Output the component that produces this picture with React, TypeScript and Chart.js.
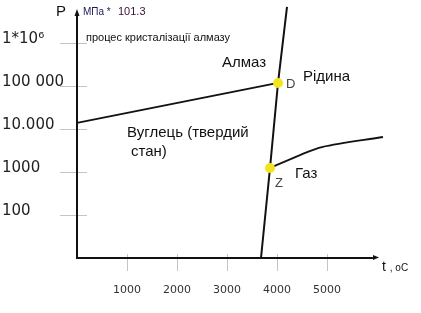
import { useEffect, useRef } from 'react';
import { Chart, registerables } from 'chart.js';

Chart.register(...registerables);

// Axis ticks
const xTicks = [1000, 2000, 3000, 4000, 5000];
const xTickLabels = ['1000', '2000', '3000', '4000', '5000'];
const yTicks = [100, 1000, 10000, 100000, 1000000];
const yTickLabels = ['100', '1000', '10.000', '100 000', '1*10⁶'];

// Phase boundaries (temperature °C, pressure MPa)
const meltT = [3680, 3860, 4020, 4200];
const meltP = [10, 1240, 117500, 6900000];
const graphiteT = [0, 4020];
const graphiteP = [13800, 117500];
const gasT = [3860, 4460, 4900, 6120];
const gasP = [1240, 2480, 3810, 6520];

// Triple points
const pointT = [3860, 4020];
const pointP = [1240, 117500];
const pointNames = ['Z', 'D'];

const X_MIN = 0;
const X_MAX = 5900;
const Y_MIN = 10;
const Y_MAX = 4.48e6;

const toXY = (xs: number[], ys: number[]) => xs.map((x, i) => ({ x, y: ys[i] }));

const SANS = '"Liberation Sans", Arial, sans-serif';

const decor = {
  id: 'decor',
  beforeDraw(chart: any) {
    const { ctx, chartArea: a, scales } = chart;
    const x = scales.x;
    const y = scales.y;
    ctx.save();
    ctx.strokeStyle = '#c4c4c4';
    ctx.lineWidth = 1;
    yTicks.forEach((v) => {
      const py = Math.round(y.getPixelForValue(v)) + 0.5;
      ctx.beginPath();
      ctx.moveTo(a.left - 17, py);
      ctx.lineTo(a.left + 10, py);
      ctx.stroke();
    });
    xTicks.forEach((v) => {
      const px = Math.round(x.getPixelForValue(v)) + 0.5;
      ctx.beginPath();
      ctx.moveTo(px, a.bottom - 4);
      ctx.lineTo(px, a.bottom + 13);
      ctx.stroke();
    });
    ctx.restore();
  },
  afterDraw(chart: any) {
    const { ctx, chartArea: a, scales } = chart;
    const x = scales.x;
    const y = scales.y;
    ctx.save();
    // y axis arrow
    ctx.fillStyle = '#111';
    ctx.beginPath();
    ctx.moveTo(a.left, a.top - 6);
    ctx.lineTo(a.left - 2.5, a.top + 1);
    ctx.lineTo(a.left + 2.5, a.top + 1);
    ctx.closePath();
    ctx.fill();
    // x axis arrow
    ctx.strokeStyle = '#333';
    ctx.lineWidth = 1;
    ctx.beginPath();
    ctx.moveTo(a.right, a.bottom - 0.5);
    ctx.lineTo(a.right + 4, a.bottom - 0.5);
    ctx.stroke();
    ctx.beginPath();
    ctx.moveTo(a.right + 7, a.bottom - 0.5);
    ctx.lineTo(a.right + 1, a.bottom - 3);
    ctx.lineTo(a.right + 1, a.bottom + 2);
    ctx.closePath();
    ctx.fill();

    const text = (s: string, px: number, py: number, size: number, color: string, family = SANS) => {
      ctx.font = `${size}px ${family}`;
      ctx.fillStyle = color;
      ctx.textAlign = 'left';
      ctx.textBaseline = 'alphabetic';
      ctx.fillText(s, px, py);
    };

    text('P', 56, 16, 15, '#111');
    text('МПа *', 83, 15, 10, '#1a1a5a');
    text('101.3', 118, 15, 11, '#3a103a');
    text('процес кристалізації алмазу', 86, 41, 11, '#111');
    text('Алмаз', 222, 67, 15, '#111');
    text('Рідина', 303, 81, 15, '#111');
    text('Вуглець (твердий', 127, 137, 15, '#111');
    text('стан)', 131, 156, 15, '#111');
    text('Газ', 295, 178, 15, '#111');
    text('t', 382, 271, 14, '#111');
    text(' , oC', 387, 271, 10, '#111');

    pointNames.forEach((n, i) => {
      const px = x.getPixelForValue(pointT[i]);
      const py = y.getPixelForValue(pointP[i]);
      if (n === 'Z') text(n, px + 5, py + 19, 13, '#444');
      else text(n, px + 8, py + 5, 13, '#444');
    });
    ctx.restore();
  },
};

export default function App() {
  const ref = useRef<HTMLCanvasElement | null>(null);

  useEffect(() => {
    const canvas = ref.current;
    if (!canvas) return;
    const chart = new Chart(canvas, {
      type: 'scatter',
      data: {
        datasets: [
          {
            data: toXY(pointT, pointP),
            pointRadius: 5,
            pointBackgroundColor: '#f2e41e',
            pointBorderWidth: 0,
            showLine: false,
            order: 0,
            clip: false,
          } as any,
          {
            data: toXY(meltT, meltP),
            showLine: true,
            pointRadius: 0,
            borderColor: '#111',
            borderWidth: 2,
            order: 1,
            clip: false,
          },
          {
            data: toXY(graphiteT, graphiteP),
            showLine: true,
            pointRadius: 0,
            borderColor: '#111',
            borderWidth: 1.8,
            order: 1,
            clip: false,
          },
          {
            data: toXY(gasT, gasP),
            showLine: true,
            pointRadius: 0,
            borderColor: '#111',
            borderWidth: 1.8,
            tension: 0.3,
            order: 1,
            clip: false,
          },
        ],
      },
      options: {
        responsive: false,
        animation: false,
        devicePixelRatio: 1,
        events: [],
        layout: { padding: { left: 2, top: 15, right: 49, bottom: 0 } },
        plugins: { legend: { display: false }, tooltip: { enabled: false } },
        scales: {
          x: {
            type: 'linear',
            min: X_MIN,
            max: X_MAX,
            afterBuildTicks: (s: any) => {
              s.ticks = xTicks.map((v) => ({ value: v }));
            },
            afterFit: (s: any) => {
              s.height = 55;
            },
            grid: { display: false, drawTicks: false },
            border: { display: true, color: '#111', width: 2 },
            ticks: {
              autoSkip: false,
              maxRotation: 0,
              padding: 26,
              color: '#333',
              font: { family: '"DejaVu Sans"', size: 11 },
              callback: (_v: any, i: number) => xTickLabels[i],
            },
          },
          y: {
            type: 'logarithmic',
            min: Y_MIN,
            max: Y_MAX,
            afterBuildTicks: (s: any) => {
              s.ticks = yTicks.map((v) => ({ value: v }));
            },
            afterFit: (s: any) => {
              s.width = 75;
            },
            grid: { display: false, drawTicks: false },
            border: { display: true, color: '#111', width: 2 },
            ticks: {
              autoSkip: false,
              crossAlign: 'far',
              labelOffset: -4,
              color: '#222',
              font: { family: '"DejaVu Sans"', size: 15 },
              callback: (_v: any, i: number) => yTickLabels[i],
            },
          },
        },
      } as any,
      plugins: [decor],
    });
    return () => chart.destroy();
  }, []);

  return (
    <div style={{ position: 'fixed', left: 0, top: 0, width: 421, height: 313, background: '#fff' }}>
      <canvas ref={ref} width={421} height={313} style={{ display: 'block', width: 421, height: 313 }} />
    </div>
  );
}
